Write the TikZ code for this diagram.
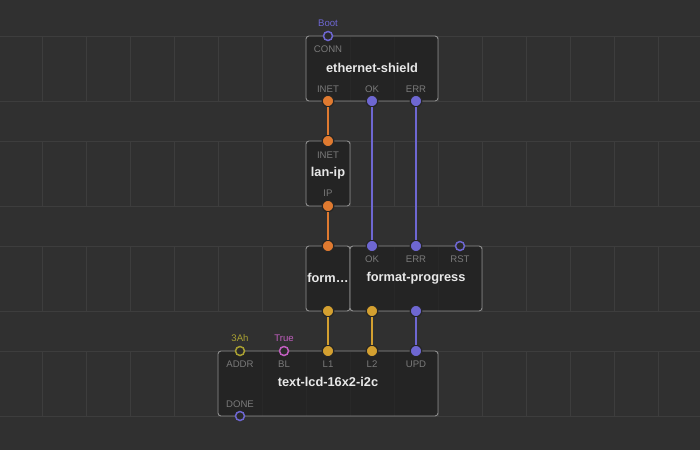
\documentclass[tikz,border=0pt]{standalone}
\usepackage{fontspec}
\setmainfont{Liberation Sans}
\definecolor{bgc}{HTML}{303030}
\definecolor{gridc}{HTML}{3D3D3D}
\definecolor{boxc}{HTML}{8C8C8C}
\definecolor{boxfill}{HTML}{1E1E1E}
\definecolor{pinlbl}{HTML}{7A7A7A}
\definecolor{titlec}{HTML}{E8E8E8}
\definecolor{pinring}{HTML}{252525}
\definecolor{hollowin}{HTML}{2A2A2A}
\definecolor{orangec}{HTML}{E07A30}
\definecolor{purplec}{HTML}{6E67D2}
\definecolor{goldc}{HTML}{D4A030}
\definecolor{olivec}{HTML}{A9A032}
\definecolor{pinkc}{HTML}{C25EC0}
\tikzset{
  box/.style={draw=boxc, line width=0.9pt, rounded corners=3pt, fill=boxfill,
    fill opacity=0.65, minimum height=65pt, inner sep=0pt},
  pinfull/.style={circle, fill=#1, draw=pinring, line width=1.2pt,
    minimum size=11.5pt, inner sep=0pt},
  pinhollow/.style={circle, draw=#1, fill=hollowin, line width=1.5pt,
    minimum size=9pt, inner sep=0pt},
  link/.style={draw=#1, line width=2pt},
  pinlabel/.style={text=pinlbl, font=\fontsize{9.6}{11}\selectfont, inner sep=0pt},
  title/.style={text=titlec, font=\fontsize{12.8}{14}\selectfont\bfseries, inner sep=0pt},
  value/.style={text=#1, font=\fontsize{9.6}{11}\selectfont, inner sep=0pt},
  gridline/.style={draw=gridc, line width=1pt},
}
\begin{document}
\begin{tikzpicture}[x=1pt, y=-1pt]
  % canvas
  \fill[bgc] (0,0) rectangle (700,450);
  \useasboundingbox (0,0) rectangle (700,450);
  % patch-bay grid: four bands with columns every 44px
  \foreach \top in {36,141,246,351}{
    \pgfmathsetmacro{\bot}{\top+65}
    \draw[gridline] (0,\top) -- (700,\top);
    \draw[gridline] (0,\bot) -- (700,\bot);
    \foreach \k in {0,...,15}{
      \draw[gridline] ({42.5+44*\k},\top) -- ({42.5+44*\k},\bot);
    }
  }

  % node bodies
  \node[box, minimum width=132pt] (eth)  at (372,68.5)  {};
  \node[box, minimum width=44pt]  (lan)  at (328,173.5) {};
  \node[box, minimum width=44pt]  (form) at (328,278.5) {};
  \node[box, minimum width=132pt] (prog) at (416,278.5) {};
  \node[box, minimum width=220pt] (lcd)  at (328,383.5) {};

  % pins
  \node[pinhollow=purplec] (ethCONN) at (328,36) {};
  \node[pinfull=orangec]   (ethINET) at (328,101) {};
  \node[pinfull=purplec]   (ethOK)   at (372,101) {};
  \node[pinfull=purplec]   (ethERR)  at (416,101) {};

  \node[pinfull=orangec]   (lanINET) at (328,141) {};
  \node[pinfull=orangec]   (lanIP)   at (328,206) {};

  \node[pinfull=orangec]   (formIN)  at (328,246) {};
  \node[pinfull=goldc]     (formOUT) at (328,311) {};

  \node[pinfull=purplec]   (progOK)  at (372,246) {};
  \node[pinfull=purplec]   (progERR) at (416,246) {};
  \node[pinhollow=purplec] (progRST) at (460,246) {};
  \node[pinfull=goldc]     (progOUT) at (372,311) {};
  \node[pinfull=purplec]   (progDONE) at (416,311) {};

  \node[pinhollow=olivec]  (lcdADDR) at (240,351) {};
  \node[pinhollow=pinkc]   (lcdBL)   at (284,351) {};
  \node[pinfull=goldc]     (lcdL1)   at (328,351) {};
  \node[pinfull=goldc]     (lcdL2)   at (372,351) {};
  \node[pinfull=purplec]   (lcdUPD)  at (416,351) {};
  \node[pinhollow=purplec] (lcdDONE) at (240,416) {};

  % links
  \draw[link=orangec] (ethINET) -- (lanINET);
  \draw[link=orangec] (lanIP) -- (formIN);
  \draw[link=purplec] (ethOK) -- (progOK);
  \draw[link=purplec] (ethERR) -- (progERR);
  \draw[link=goldc]   (formOUT) -- (lcdL1);
  \draw[link=goldc]   (progOUT) -- (lcdL2);
  \draw[link=purplec] (progDONE) -- (lcdUPD);

  % ethernet-shield labels
  \node[value=purplec] (vBoot) at (328,23) {Boot};
  \node[pinlabel] (lCONN) at (328,49) {CONN};
  \node[title] (tEth) at (372,68) {ethernet-shield};
  \node[pinlabel] (lINET1) at (328,89) {INET};
  \node[pinlabel] (lOK1) at (372,89) {OK};
  \node[pinlabel] (lERR1) at (416,89) {ERR};

  % lan-ip labels
  \node[pinlabel] (lINET2) at (328,155) {INET};
  \node[title] (tLan) at (328,173) {lan-ip};
  \node[pinlabel] (lIP) at (328,193) {IP};

  % format / format-progress labels
  \node[title] (tForm) at (328,278) {form…};
  \node[pinlabel] (lOK2) at (372,259) {OK};
  \node[pinlabel] (lERR2) at (416,259) {ERR};
  \node[pinlabel] (lRST) at (460,259) {RST};
  \node[title] (tProg) at (416,278) {format-progress};

  % text-lcd labels
  \node[value=olivec] (v3Ah) at (240,338) {3Ah};
  \node[value=pinkc] (vTrue) at (284,338) {True};
  \node[pinlabel] (lADDR) at (240,364) {ADDR};
  \node[pinlabel] (lBL) at (284,364) {BL};
  \node[pinlabel] (lL1) at (328,364) {L1};
  \node[pinlabel] (lL2) at (372,364) {L2};
  \node[pinlabel] (lUPD) at (416,364) {UPD};
  \node[title] (tLcd) at (328,382) {text-lcd-16x2-i2c};
  \node[pinlabel] (lDONE) at (240,404) {DONE};
\end{tikzpicture}
\end{document}
